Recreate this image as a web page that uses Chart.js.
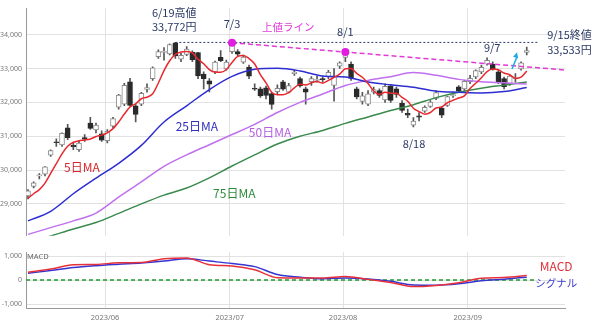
<!DOCTYPE html>
<html>
<head>
<meta charset="utf-8">
<script src="https://cdn.jsdelivr.net/npm/chart.js"></script>
<style>
  html, body { margin: 0; padding: 0; background: #fff; }
  #wrap { position: relative; width: 600px; height: 323px; }
  #main { position: absolute; left: 0; top: 0; }
  #macd { position: absolute; left: 0; top: 244px; }
</style>
</head>
<body>
<div id="wrap">
  <canvas id="main" width="600" height="244"></canvas>
  <canvas id="macd" width="600" height="79"></canvas>
</div>
<script>
// 日足データ (2023/5/12 - 9/15)
const dates = ['5/12','5/15','5/16','5/17','5/18','5/19','5/22','5/23','5/24','5/25','5/26','5/29','5/30','5/31',
  '6/1','6/2','6/5','6/6','6/7','6/8','6/9','6/12','6/13','6/14','6/15','6/16','6/19','6/20','6/21','6/22','6/23','6/26','6/27','6/28','6/29','6/30',
  '7/3','7/4','7/5','7/6','7/7','7/10','7/11','7/12','7/13','7/14','7/18','7/19','7/20','7/21','7/24','7/25','7/26','7/27','7/28','7/31',
  '8/1','8/2','8/3','8/4','8/7','8/8','8/9','8/10','8/14','8/15','8/16','8/17','8/18','8/21','8/22','8/23','8/24','8/25','8/28','8/29','8/30','8/31',
  '9/1','9/4','9/5','9/6','9/7','9/8','9/11','9/12','9/13','9/14','9/15'];

const opens = [29240,29520,29830,29880,30440,30830,30740,31250,30730,30600,30960,31390,31190,31070,
  30870,31300,31860,31950,32610,31900,31950,32380,32700,33350,33480,33430,33758,33280,33420,33480,33470,32840,32640,32900,33330,32990,
  33500,33500,33190,33040,32400,32400,32430,32260,32320,32610,32300,32850,32700,32400,32610,32650,32700,32750,32500,33070,
  33330,33130,32400,32030,31950,32300,32350,32070,32490,32400,31970,31680,31330,31600,31740,31880,32120,31830,31910,32200,32460,32400,
  32610,32750,32900,33130,33130,32900,32700,32550,32700,32990,33480];
const highs = [29426,29650,29900,30100,30600,30924,31100,31352,30800,30850,31050,31560,31390,31160,
  31200,31560,32240,32560,32708,31950,32300,32550,33050,33550,33620,33730,33772,33450,33650,33520,33480,32900,32700,33220,33530,33250,
  33762,33560,33400,33100,32550,32450,32480,32300,32520,32650,32560,32950,32750,32450,32760,32780,32760,32950,33000,33200,
  33488,33200,32450,32300,32350,32450,32400,32550,32500,32450,32050,31800,31550,31700,31900,32050,32350,31880,32180,32300,32500,32650,
  32800,32960,33100,33320,33200,32950,32750,32800,32850,33200,33634];
const lows = [29150,29470,29740,29830,30400,30700,30700,30900,30600,30550,30850,31200,31100,30850,
  30800,31250,31800,31900,31880,31420,31900,32300,32650,33300,33250,33400,33300,33200,33380,33200,32700,32400,32306,32850,33200,32950,
  33450,33380,33150,32700,32350,32150,32100,31800,32250,32350,32280,32800,32450,31950,32500,32600,32600,32700,32037,33000,
  33200,32650,32100,31950,31900,32250,32150,32000,32000,32150,31700,31550,31275,31450,31700,31850,32080,31550,31880,32150,32300,32350,
  32550,32700,32850,33100,32950,32550,32400,32500,32600,32950,33400];
const closes = [29388,29626,29842,30093,30573,30808,31086,30957,30682,30801,30916,31233,31328,30887,
  31148,31524,32217,32506,31913,31641,32265,32434,33018,33502,33485,33706,33370,33388,33575,33264,32781,32698,32538,33193,33234,33189,
  33753,33422,33338,32773,32388,32189,32203,31943,32419,32391,32493,32896,32490,32304,32700,32682,32668,32891,32759,33172,
  33476,32707,32159,32192,32254,32377,32204,32473,32059,32238,31766,31626,31450,31565,31856,32010,32287,31624,32169,32226,32333,32619,
  32710,32939,33036,33241,32991,32606,32467,32776,32706,33168,33533];

// 移動平均
const ma5 = [29165,29301,29421,29615,29904,30188,30480,30703,30821,30867,
  30888,30918,30992,31033,31102,31224,31421,31656,31862,31960,
  32108,32152,32254,32572,32941,33229,33416,33490,33505,33461,
  33276,33141,32971,32895,32889,32970,33181,33358,33387,33295,
  33135,32822,32578,32299,32228,32229,32290,32428,32538,32515,
  32577,32614,32569,32649,32740,32834,32993,33001,32855,32741,
  32558,32338,32237,32300,32273,32270,32148,32032,31828,31729,
  31653,31701,31834,31868,31989,32063,32128,32194,32411,32565,
  32727,32909,32983,32963,32868,32816,32709,32745,32930];
const maDays = [0,4,8,12,16,20,24,28,32,36,40,44,48,52,56,60,64,68,72,76,80,84,88];
const ma25 = [28500,28780,29300,29760,30200,30730,31420,31900,32380,32770,32980,33010,32930,32780,32750,32600,32520,32450,32330,32300,32280,32320,32440];
const ma50 = [28100,28300,28500,28730,29200,29650,30110,30450,30750,31050,31350,31700,32000,32250,32500,32650,32760,32880,32800,32680,32610,32580,32540];
const ma75 = [27850,28050,28260,28450,28720,29000,29260,29470,29770,30120,30450,30770,31000,31170,31380,31570,31760,31930,32140,32300,32420,32510,32600];

// MACD
const macd   = [330,460,640,650,720,730,890,920,640,590,430,100,90,90,150,30,-100,-270,-220,-110,80,110,190];
const signal = [285,395,520,600,660,715,790,890,790,690,560,230,120,60,90,50,-50,-200,-210,-150,-30,40,120];

const monthStarts = [14, 36, 56, 78];
const monthLabels = ['2023/06', '2023/07', '2023/08', '2023/09'];
const priceTicks = [29000, 30000, 31000, 32000, 33000, 34000];
const macdTicks = [-1000, 0, 1000];

const JP = "'Noto Sans CJK JP', 'Noto Sans', sans-serif";
const NAVY = '#2b3a66';
const MAGENTA = '#e23ad6';
const xMin = -0.35, xMax = 94.75;

function fmt(v) { return v.toLocaleString('en-US'); }

function xScale(showLabels) {
  return {
    type: 'linear', min: xMin, max: xMax, offset: false,
    grid: { color: '#e2e2e2', drawTicks: false, offset: false },
    border: { display: showLabels, color: '#999' },
    afterBuildTicks: s => { s.ticks = monthStarts.map(v => ({ value: v - 0.4 })); },
    afterFit: s => { s.height = showLabels ? 15 : 0; },
    ticks: {
      display: showLabels, padding: 5, color: '#777', maxRotation: 0,
      font: { family: "'Noto Sans', sans-serif", size: 7.5 },
      callback: (v, i) => monthLabels[i]
    }
  };
}

const up = i => closes[i] >= opens[i];

// 注記 (文字・ライン)
const notesPlugin = {
  id: 'notes',
  afterDatasetsDraw(chart) {
    const { ctx, scales: { x, y } } = chart;
    const px = i => x.getPixelForValue(i);
    const py = v => y.getPixelForValue(v);
    ctx.save();

    // 6/19高値の水平線
    const hi = dates.indexOf('6/19');
    ctx.strokeStyle = NAVY; ctx.lineWidth = 1; ctx.setLineDash([2, 2]);
    ctx.beginPath();
    ctx.moveTo(px(hi), py(highs[hi]));
    ctx.lineTo(px(dates.length + 1.2), py(highs[hi]));
    ctx.stroke();

    // 上値ライン
    const r1 = dates.indexOf('7/3'), r2 = dates.indexOf('8/1');
    const slope = (highs[r2] - highs[r1]) / (r2 - r1);
    ctx.strokeStyle = MAGENTA; ctx.lineWidth = 1.5; ctx.setLineDash([5, 3]);
    ctx.beginPath();
    ctx.moveTo(px(r1), py(highs[r1]));
    ctx.lineTo(px(x.max), py(highs[r1] + slope * (x.max - r1)));
    ctx.stroke();
    ctx.setLineDash([]);
    ctx.fillStyle = '#e01ee0';
    [r1, r2].forEach(i => {
      ctx.beginPath(); ctx.arc(px(i), py(highs[i]), 4, 0, Math.PI * 2); ctx.fill();
    });

    // 矢印
    const ax0 = px(85.4), ay0 = py(32986), ax1 = px(86.3), ay1 = py(33478);
    ctx.strokeStyle = '#1fa9e6'; ctx.fillStyle = '#1fa9e6'; ctx.lineWidth = 1.5;
    ctx.beginPath(); ctx.moveTo(ax0, ay0); ctx.lineTo(ax1, ay1 + 4); ctx.stroke();
    const ang = Math.atan2(ay1 - ay0, ax1 - ax0);
    ctx.beginPath();
    ctx.moveTo(ax1, ay1);
    ctx.lineTo(ax1 - 6 * Math.cos(ang - 0.45), ay1 - 6 * Math.sin(ang - 0.45));
    ctx.lineTo(ax1 - 6 * Math.cos(ang + 0.45), ay1 - 6 * Math.sin(ang + 0.45));
    ctx.closePath(); ctx.fill();

    const last = closes.length - 1;
    const notes = [
      ['6/19高値', 25.8, 34638, NAVY, 11, 'center'],
      [fmt(highs[hi]) + '円', 25.8, 34232, NAVY, 11, 'center'],
      ['7/3', 36, 34319, NAVY, 11, 'center'],
      ['上値ライン', 45.9, 34232, MAGENTA, 10.5, 'center'],
      ['8/1', 56, 34087, NAVY, 11, 'center'],
      ['9/7', 81.9, 33623, NAVY, 11, 'center'],
      ['9/15終値', 91.6, 34000, NAVY, 11, 'left'],
      [fmt(closes[last]) + '円', 91.6, 33565, NAVY, 11, 'left'],
      ['8/18', 68.1, 30783, NAVY, 11, 'center'],
      ['5日MA', 9.5, 30087, '#d9262c', 12, 'center'],
      ['25日MA', 29.8, 31304, '#3030c0', 12, 'center'],
      ['50日MA', 42.7, 31101, '#b45ee0', 12, 'center'],
      ['75日MA', 36.4, 29304, '#2e8b3e', 12, 'center']
    ];
    ctx.textBaseline = 'middle';
    notes.forEach(([t, i, v, c, s, a]) => {
      ctx.fillStyle = c; ctx.textAlign = a;
      ctx.font = s + 'px ' + JP;
      ctx.fillText(t, px(i), py(v));
    });
    ctx.restore();
  }
};

new Chart(document.getElementById('main'), {
  type: 'bar',
  data: {
    datasets: [
      {
        label: 'wick', order: 10, grouped: false, barThickness: 1,
        data: dates.map((d, i) => ({ x: i, y: [lows[i], highs[i]] })),
        backgroundColor: '#555'
      },
      {
        label: 'body', order: 9, grouped: false, barThickness: 5, minBarLength: 1,
        data: dates.map((d, i) => ({ x: i, y: [opens[i], closes[i]] })),
        backgroundColor: dates.map((d, i) => up(i) ? '#ffffff' : '#2a2a2a'),
        borderColor: dates.map((d, i) => up(i) ? '#8a8a8a' : '#2a2a2a'),
        borderWidth: 1, borderSkipped: false
      },
      {
        type: 'line', label: '75日MA', order: 4,
        data: maDays.map((d, k) => ({ x: d, y: ma75[k] })),
        borderColor: '#3a8a4e', borderWidth: 1.5, pointRadius: 0, cubicInterpolationMode: 'monotone'
      },
      {
        type: 'line', label: '50日MA', order: 3,
        data: maDays.map((d, k) => ({ x: d, y: ma50[k] })),
        borderColor: '#c070ee', borderWidth: 1.5, pointRadius: 0, cubicInterpolationMode: 'monotone'
      },
      {
        type: 'line', label: '25日MA', order: 2,
        data: maDays.map((d, k) => ({ x: d, y: ma25[k] })),
        borderColor: '#2d2dd2', borderWidth: 1.5, pointRadius: 0, cubicInterpolationMode: 'monotone'
      },
      {
        type: 'line', label: '5日MA', order: 1,
        data: ma5.map((v, i) => ({ x: i, y: v })),
        borderColor: '#e8282e', borderWidth: 1.5, pointRadius: 0, cubicInterpolationMode: 'monotone'
      }
    ]
  },
  options: {
    responsive: false, animation: false,
    layout: { padding: { top: 8, right: 35, left: 0, bottom: 0 } },
    plugins: { legend: { display: false }, tooltip: { enabled: false } },
    scales: {
      x: xScale(false),
      y: {
        min: 28058, max: 34783,
        grid: { color: '#e2e2e2', drawTicks: false },
        border: { color: '#999' },
        afterBuildTicks: s => { s.ticks = priceTicks.map(v => ({ value: v })); },
        afterFit: s => { s.width = 26; },
        ticks: { padding: 4, color: '#777', font: { family: "'Noto Sans', sans-serif", size: 7 }, callback: v => fmt(v) }
      }
    }
  },
  plugins: [notesPlugin]
});

// MACD パネル
const macdPlugin = {
  id: 'macdNotes',
  beforeDatasetsDraw(chart) {
    const { ctx, chartArea, scales: { x, y } } = chart;
    ctx.save();
    ctx.strokeStyle = '#1f9a2e'; ctx.lineWidth = 1.5; ctx.setLineDash([4, 3]);
    ctx.beginPath();
    ctx.moveTo(chartArea.left, y.getPixelForValue(0));
    ctx.lineTo(x.getPixelForValue(dates.length + 0.8), y.getPixelForValue(0));
    ctx.stroke();
    ctx.restore();
  },
  afterDatasetsDraw(chart) {
    const { ctx, chartArea, scales: { x, y } } = chart;
    ctx.save();
    ctx.textBaseline = 'middle';
    ctx.textAlign = 'left';
    ctx.fillStyle = '#666';
    ctx.font = "7.5px 'Noto Sans', sans-serif";
    ctx.fillText('MACD', chartArea.left + 1, chartArea.top + 5);
    ctx.textAlign = 'center';
    ctx.font = '12px ' + JP;
    ctx.fillStyle = '#e0303a';
    ctx.fillText('MACD', x.getPixelForValue(93.2), y.getPixelForValue(560));
    ctx.font = '10.5px ' + JP;
    ctx.fillStyle = '#3a3ad0';
    ctx.fillText('シグナル', x.getPixelForValue(93.2), y.getPixelForValue(-120));
    ctx.restore();
  }
};

new Chart(document.getElementById('macd'), {
  type: 'line',
  data: {
    datasets: [
      {
        label: 'シグナル', order: 2,
        data: maDays.map((d, k) => ({ x: d, y: signal[k] })),
        borderColor: '#3434d0', borderWidth: 1.5, pointRadius: 0, cubicInterpolationMode: 'monotone'
      },
      {
        label: 'MACD', order: 1,
        data: maDays.map((d, k) => ({ x: d, y: macd[k] })),
        borderColor: '#e8303a', borderWidth: 1.5, pointRadius: 0, cubicInterpolationMode: 'monotone'
      }
    ]
  },
  options: {
    responsive: false, animation: false,
    layout: { padding: { top: 6, right: 35, left: 0, bottom: 0 } },
    plugins: { legend: { display: false }, tooltip: { enabled: false } },
    scales: {
      x: xScale(true),
      y: {
        min: -1160, max: 1160,
        grid: { color: '#e2e2e2', drawTicks: false },
        border: { color: '#999' },
        afterBuildTicks: s => { s.ticks = macdTicks.map(v => ({ value: v })); },
        afterFit: s => { s.width = 26; },
        ticks: { padding: 4, color: '#777', font: { family: "'Noto Sans', sans-serif", size: 7 }, callback: v => fmt(v) }
      }
    }
  },
  plugins: [macdPlugin]
});
</script>
</body>
</html>
